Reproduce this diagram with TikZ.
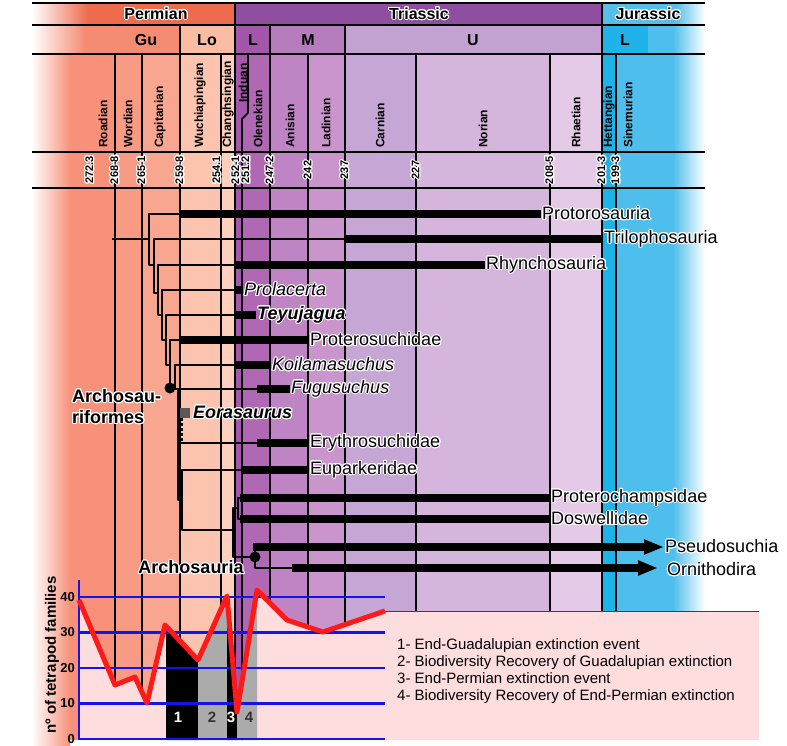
\documentclass[tikz,border=0pt]{standalone}
\usepackage{fontspec}
\setmainfont{Liberation Sans}
\usepackage{contour}
\contourlength{1.1pt}
\usetikzlibrary{arrows.meta}

% period / epoch colours
\definecolor{permC}{HTML}{EE6B4D}
\definecolor{triaC}{HTML}{904EA0}
\definecolor{juraC}{HTML}{55BFEA}
\definecolor{guC}{HTML}{F48C73}
\definecolor{loC}{HTML}{FBBCA4}
\definecolor{eTrC}{HTML}{A357AA}
\definecolor{mTrC}{HTML}{B67CBE}
\definecolor{uTrC}{HTML}{C3A1D0}
\definecolor{eJuC}{HTML}{1FB3E9}
% stage colours
\definecolor{roadC}{HTML}{F7917A}
\definecolor{wordC}{HTML}{F89B84}
\definecolor{capiC}{HTML}{F9A690}
\definecolor{wuchC}{HTML}{FCC3AE}
\definecolor{chanC}{HTML}{FDCFBC}
\definecolor{induC}{HTML}{A458AC}
\definecolor{olenC}{HTML}{B168B4}
\definecolor{anisC}{HTML}{BE84C3}
\definecolor{ladiC}{HTML}{CA94CC}
\definecolor{carnC}{HTML}{C6A6D4}
\definecolor{noriC}{HTML}{D5B5DB}
\definecolor{rhaeC}{HTML}{E5CAE7}
\definecolor{hettC}{HTML}{1BB3E8}
\definecolor{sineC}{HTML}{4EBEEC}
% diversity plot
\definecolor{famPink}{HTML}{FDDDDD}
\definecolor{famRed}{HTML}{FF1A1A}
\definecolor{famBlue}{HTML}{1414E6}
\definecolor{eventGray}{HTML}{ABABAB}

\newcommand{\halo}[1]{\contour{white}{#1}}

\begin{document}
\begin{tikzpicture}[x=1pt, y=-1pt, line join=round,
    grid/.style={black, line width=1.6pt},
    branch/.style={black, line width=2.6pt},
    bar/.style={black, line width=8.5pt, line cap=butt},
    taxon/.style={anchor=west, inner sep=1pt, font=\fontsize{18}{20}\selectfont},
    clade/.style={inner sep=1pt, font=\fontsize{18}{21}\selectfont\bfseries},
    periodlab/.style={font=\fontsize{16}{18}\selectfont\bfseries},
    stagelab/.style={rotate=90, anchor=west, inner sep=0pt, font=\fontsize{12}{14}\selectfont\bfseries},
    agelab/.style={rotate=90, inner sep=0pt, font=\fontsize{11}{13}\selectfont\bfseries},
    blueline/.style={famBlue, line width=2.6pt},
    ticklab/.style={anchor=east, inner sep=1pt, font=\fontsize{13}{15}\selectfont\bfseries},
    eventlab/.style={font=\fontsize{15}{17}\selectfont\bfseries}]
    \useasboundingbox (0,0) rectangle (787,746);

    % ---------------------------------------------------
    % time scale: periods, epochs, stage columns
    % ---------------------------------------------------
    \fill[permC] (32,3) rectangle (235,25);
    \fill[triaC] (235,3) rectangle (602,25);
    \fill[juraC] (602,3) rectangle (705,25);

    \fill[guC] (32,25) rectangle (180,54);
    \fill[loC] (180,25) rectangle (235,54);
    \fill[eTrC] (235,25) rectangle (270,54);
    \fill[mTrC] (270,25) rectangle (345,54);
    \fill[uTrC] (345,25) rectangle (602,54);
    \fill[eJuC] (602,25) rectangle (648,54);
    \fill[sineC] (648,25) rectangle (705,54);

    \foreach \xa/\xb/\col in {32/115/roadC, 115/142/wordC, 142/180/capiC,
        180/221/wuchC, 221/235/chanC, 235/242/induC, 242/270/olenC,
        270/308/anisC, 308/345/ladiC, 345/416/carnC, 416/550/noriC,
        550/602/rhaeC, 602/616/hettC, 616/705/sineC}
        \fill[\col] (\xa,54) rectangle (\xb,740);
    \fill[induC] (242,54) -- (248,54) -- (248,113) -- (242,119) -- cycle;

    % fade to white at both ends
    \shade[left color=white, right color=permC] (32,3) rectangle (88,25);
    \shade[left color=white, right color=guC] (32,25) rectangle (85,54);
    \shade[left color=white, right color=roadC] (32,54) rectangle (70,746);
    \shade[left color=juraC, right color=white] (676,3) rectangle (705,25);
    \shade[left color=sineC, right color=white] (673,25) rectangle (705,611);

    % grid of the time scale
    \foreach \yy in {3,25,54,152,188}
        \draw[grid] (32,\yy) -- (705,\yy);
    \foreach \xx in {235,602}
        \draw[grid] (\xx,3) -- (\xx,740);
    \foreach \xx in {180,270,345}
        \draw[grid] (\xx,25) -- (\xx,740);
    \foreach \xx in {115,142,221,308,416,550,616}
        \draw[grid] (\xx,54) -- (\xx,740);
    \draw[grid] (248,54) -- (248,113) -- (242,119) -- (242,740);

    \node[periodlab] (perm) at (156,14) {\halo{Permian}};
    \node[periodlab] (tria) at (419,14) {\halo{Triassic}};
    \node[periodlab] (jura) at (648,14) {\halo{Jurassic}};
    \foreach \xx/\ep in {146/Gu, 207/Lo, 253/L, 308/M, 473/U, 625/L}
        \node[periodlab] at (\xx,40) {\ep};

    \foreach \xx/\st in {103/Roadian, 128/Wordian, 160/Capitanian, 200/Wuchiapingian,
        228/Changhsingian, 258/Olenekian, 290/Anisian, 326/Ladinian, 380/Carnian,
        483/Norian, 576/Rhaetian, 609/Hettangian, 628/Sinemurian}
        \node[stagelab] at (\xx,148) {\st};
    \node[stagelab] at (243,103) {Induan};

    \foreach \xx/\age in {90/272.3, 115/268-8, 142/265-1, 180/259-8, 217/254.1,
        236/252-1, 246/251.2, 270/247-2, 308/242, 345/237, 416/227,
        550/208-5, 602/201-3, 616/199-3}
        \node[agelab] at (\xx,170) {\halo{\age}};

    % ---------------------------------------------------
    % tetrapod family counts
    % ---------------------------------------------------
    \foreach \i/\px/\py in {0/79/600, 1/115/685, 2/135/677, 3/147/703, 4/165/625,
        5/198/660, 6/227/596, 7/237/712, 8/257/590, 9/287/620, 10/323/632, 11/385/611}
        \coordinate (f\i) at (\px,\py);

    \fill[famPink] (79,740) -- (f0) -- (f1) -- (f2) -- (f3) -- (f4) -- (f5) -- (f6)
        -- (f7) -- (f8) -- (f9) -- (f10) -- (f11) -- (759,611) -- (759,740) -- cycle;
    \draw[black!75, line width=0.8pt] (f11) -- (759,611);

    % extinction / recovery intervals
    \fill[black] (166,740) -- (166,626) -- (f5) -- (198,740) -- cycle;
    \fill[eventGray] (198,740) -- (f5) -- (f6) -- (227,740) -- cycle;
    \fill[black] (227,740) -- (f6) -- (f7) -- (237,740) -- cycle;
    \fill[eventGray] (237,740) -- (f7) -- (f8) -- (257,740) -- cycle;

    \foreach \v in {0,10,20,30,40} {
        \draw[blueline] (79,{739-3.55*\v}) -- (385,{739-3.55*\v});
        \node[ticklab] at (76,{739-3.55*\v}) {\v};
    }
    \draw[blueline] (79,580) -- (79,740);

    \draw[famRed, line width=5pt] (f0) -- (f1) -- (f2) -- (f3) -- (f4) -- (f5) -- (f6)
        -- (f7) -- (f8) -- (f9) -- (f10) -- (f11);

    \node[eventlab, white] (ev1) at (178,717) {1};
    \node[eventlab, black!80] (ev2) at (212,717) {2};
    \node[eventlab, white] (ev3) at (231,717) {3};
    \node[eventlab, black!80] (ev4) at (249,717) {4};

    \node[rotate=90, font=\fontsize{15}{17}\selectfont\bfseries] (ylab) at (52,655)
        {nº of tetrapod families};

    \node[anchor=north west, align=left, inner sep=0pt,
        font=\fontsize{15}{17.3}\selectfont] (legend) at (397,638)
        {1- End-Guadalupian extinction event\\
         2- Biodiversity Recovery of Guadalupian extinction\\
         3- End-Permian extinction event\\
         4- Biodiversity Recovery of End-Permian extinction};

    % ---------------------------------------------------
    % cladogram: range bars and labels
    % ---------------------------------------------------
    \coordinate (protS) at (180,214);
    \coordinate (triS) at (345,239);
    \coordinate (rhyS) at (235,265);
    \coordinate (prlS) at (236,290);
    \coordinate (teyS) at (236,315);
    \coordinate (ptsS) at (180,340);
    \coordinate (koiS) at (235,365);
    \coordinate (fugS) at (257,389);
    \coordinate (eryS) at (257,443);
    \coordinate (eupS) at (242,470);
    \coordinate (pchS) at (240,498);
    \coordinate (dosS) at (240,519);
    \coordinate (psS) at (253,547);
    \coordinate (orS) at (292,568);
    \coordinate (orTip) at (658,568);

    \node[taxon] (prot) at (541,214) {\halo{Protorosauria}};
    \node[taxon] (tril) at (603,239) {\halo{Trilophosauria}};
    \node[taxon] (rhyn) at (485,265) {\halo{Rhynchosauria}};
    \node[taxon, font=\fontsize{18}{20}\selectfont\itshape] (prol) at (243,290) {\halo{Prolacerta}};
    \node[taxon, font=\fontsize{18}{20}\selectfont\bfseries\itshape] (teyu) at (256,315) {\halo{Teyujagua}};
    \node[taxon] (ptsu) at (309,340) {\halo{Proterosuchidae}};
    \node[taxon, font=\fontsize{18}{20}\selectfont\itshape] (koil) at (271,365) {\halo{Koilamasuchus}};
    \node[taxon, font=\fontsize{18}{20}\selectfont\itshape] (fugu) at (290,389) {\halo{Fugusuchus}};
    \node[taxon] (eryt) at (309,443) {\halo{Erythrosuchidae}};
    \node[taxon] (eupa) at (309,470) {\halo{Euparkeridae}};
    \node[taxon] (ptch) at (550,498) {\halo{Proterochampsidae}};
    \node[taxon] (dosw) at (550,519) {\halo{Doswellidae}};
    \node[taxon] (pseu) at (664,547) {\halo{Pseudosuchia}};
    \node[taxon] (orni) at (666,570) {\halo{Ornithodira}};

    \foreach \s/\t in {protS/prot, triS/tril, rhyS/rhyn, prlS/prol, teyS/teyu,
        ptsS/ptsu, koiS/koil, fugS/fugu, eryS/eryt, eupS/eupa, pchS/ptch, dosS/dosw}
        \draw[bar] (\s) -- (\t.west);
    \draw[bar, -{Triangle[length=20pt, width=14pt]}] (psS) -- (pseu.west);
    \draw[bar, -{Triangle[length=20pt, width=14pt]}] (orS) -- (orTip);

    % Eorasaurus, uncertain position
    \node[fill=black!65, minimum size=10pt, inner sep=0pt] (eora) at (185,413) {};
    \node[taxon, font=\fontsize{18}{20}\selectfont\bfseries\itshape] (eoraL) at (192,413) {\halo{Eorasaurus}};
    \draw[branch, dashed, dash pattern=on 3pt off 2pt] (eora.south -| 182,0) -- (182,443);

    % branches of the tree
    \draw[branch] (112,239) -- (149,239);
    \draw[branch] (protS) -| (149,265) -- (154,265);
    \draw[branch] (triS) -| (154,293) -- (158,293);
    \draw[branch] (rhyS) -| (158,315) -- (162,315);
    \draw[branch] (prlS) -| (162,340) -- (166,340);
    \draw[branch] (teyS) -| (166,365) -- (170,365);
    \draw[branch] (ptsS) -| (170,389);
    \draw[branch] (koiS) -| (175,389);
    \draw[branch] (fugS) -- (170,389);
    \draw[branch] (178,389) -- (178,500) -- (182,500);
    \draw[branch] (eryS) -- (178,443);
    \draw[branch] (eupS) -| (182,530) -- (233,530);
    \draw[branch] (pchS) -| (238,519) -- (dosS);
    \draw[branch] (238,508) -| (233,557) -- (255,557);
    \draw[branch] (psS) -| (255,568) -- (orS);

    \fill[black] (170,388) circle (5.5pt);
    \fill[black] (255,557) circle (5.5pt);

    \node[clade, align=left, anchor=west] (asfm) at (71,407) {\halo{Archosau-}\\\halo{riformes}};
    \node[clade] (asia) at (191,568) {\halo{Archosauria}};
\end{tikzpicture}
\end{document}
